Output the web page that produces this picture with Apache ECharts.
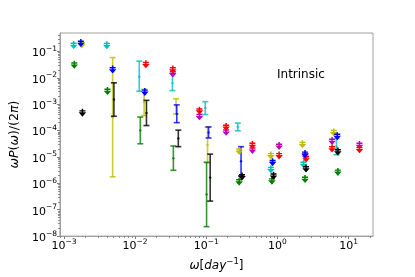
<!DOCTYPE html>
<html><head><meta charset="utf-8">
<script src="https://cdn.jsdelivr.net/npm/echarts@6/dist/echarts.min.js"></script>
<style>html,body{margin:0;padding:0;background:#fff}#c{width:415px;height:277px}</style>
</head><body><div id="c"></div>
<script>
// ---- axis ranges / ticks ----
const xMin = 8.8e-4, xMax = 22;
const yMin = 1e-8, yMax = 0.5;
const xMajorTicks = [1e-3, 1e-2, 1e-1, 1, 10];
const yMajorTicks = [1e-8, 1e-7, 1e-6, 1e-5, 1e-4, 1e-3, 1e-2, 1e-1];

// ---- cyan ----
const cyanLimX = [1.37e-3, 4.01e-3, 0.809, 2.32];
const cyanLimY = [0.174, 0.171, 3.4e-6, 5.33e-6];
const cyanBarX = [0.01145, 0.0335, 0.0968, 0.277, 6.75];
const cyanBarY = [0.0110, 6.3e-3, 7.1e-4, 1.37e-4, 2.45e-5];
const cyanBarLo = [3.09e-3, 3.28e-3, 4.04e-4, 9.8e-5, 1.21e-5];
const cyanBarHi = [0.0429, 0.0146, 1.25e-3, 1.93e-4, 4.96e-5];
// ---- blue ----
const blueLimX = [1.73e-3, 4.84e-3, 0.0137, 0.855, 2.44, 6.92];
const blueLimY = [0.209, 0.0205, 2.91e-3, 6.31e-6, 1.30e-5, 6.14e-5];
const blueBarX = [0.0385, 0.1077, 0.308];
const blueBarY = [4.28e-4, 8.5e-5, 6.9e-6];
const blueBarLo = [2.0e-4, 5.26e-5, 1.92e-6];
const blueBarHi = [9.42e-4, 1.37e-4, 2.45e-5];
// ---- red ----
const redLimX = [0.01416, 0.0339, 0.0802, 0.19, 0.445, 1.055, 2.52, 5.85, 14.2];
const redLimY = [0.0324, 0.0205, 5.66e-4, 1.37e-4, 2.84e-5, 1.14e-5, 8.65e-6, 2.07e-5, 1.95e-5];
// ---- magenta ----
const magLimX = [0.0339, 0.0802, 0.19, 0.445, 1.055, 2.47, 5.85, 14.2];
const magLimY = [0.0146, 3.49e-4, 9.0e-5, 1.85e-5, 2.61e-5, 1.11e-5, 4.02e-5, 2.84e-5];
// ---- yellow ----
const yelLimX = [1.78e-3, 0.29, 0.809, 2.25, 6.17];
const yelLimY = [0.182, 1.70e-5, 1.14e-5, 3.03e-5, 8.53e-5];
const yelBarX = [4.84e-3, 0.0134, 0.0376, 0.1042];
const yelBarY = [3.2e-4, 1.17e-3, 8.3e-4, 2.86e-5];
const yelBarLo = [1.77e-6, 3.71e-4, 4.28e-4, 5.96e-6];
const yelBarHi = [0.0587, 3.67e-3, 1.61e-3, 1.37e-4];
// ---- green ----
const grnLimX = [1.40e-3, 4.09e-3, 0.29, 0.836, 2.44, 7.06];
const grnLimY = [0.0313, 3.14e-3, 1.16e-6, 1.26e-6, 1.46e-6, 2.70e-6];
const grnBarX = [0.01183, 0.0345, 0.101];
const grnBarY = [1.01e-4, 9.0e-6, 3.8e-7];
const grnBarLo = [3.16e-5, 3.12e-6, 2.28e-8];
const grnBarHi = [3.26e-4, 2.61e-5, 6.31e-6];
// ---- black ----
const blkLimX = [1.82e-3, 0.318, 0.881, 2.52, 7.06];
const blkLimY = [4.77e-4, 1.82e-6, 1.92e-6, 3.64e-6, 1.61e-5];
const blkBarX = [5.04e-3, 0.01445, 0.0405, 0.1135];
const blkBarY = [1.5e-3, 4.66e-4, 5.05e-5, 1.65e-6];
const blkBarLo = [3.49e-4, 1.55e-4, 2.45e-5, 2.12e-7];
const blkBarHi = [6.47e-3, 1.40e-3, 1.04e-4, 1.28e-5];

const C = {c:'#00bfbf', b:'#0000ff', r:'#ff0000', m:'#bf00bf', y:'#bfbf00', g:'#008000', k:'#000000'};

function minorTicks(lo, hi) {
  const out = [];
  for (let d = -9; d <= 2; d++) for (let k = 2; k <= 9; k++) {
    const v = k * Math.pow(10, d);
    if (v > lo && v < hi) out.push(v);
  }
  return out;
}
function fmtLog(v) {
  const e = Math.round(Math.log10(v));
  return '{b|10}{s|' + String(e).replace('-', '\u2212') + '}';
}
const tickRich = {
  b: {fontSize: 11, fontFamily: 'DejaVu Sans', color: '#000', verticalAlign: 'bottom', lineHeight: 15},
  s: {fontSize: 7.5, fontFamily: 'DejaVu Sans', color: '#000', verticalAlign: 'bottom', lineHeight: 15, padding: [0, 0, 6, 0]}
};
const LIM_PATH = 'path://M4,0L6,0L6,2L9,2L9,4L6,4L6,5L10,5L5,11L0,5L4,5L4,4L1,4L1,2L4,2Z';

function limSeries(xs, ys, color, z) {
  return {type: 'scatter', symbol: LIM_PATH, symbolSize: [7.5, 8], z: z,
    itemStyle: {color: color, opacity: 1}, silent: true,
    data: xs.map((x, i) => [x, ys[i]])};
}
function barSeries(xs, ys, lo, hi, color, z) {
  return {type: 'custom', z: z, silent: true,
    data: xs.map((x, i) => [x, ys[i], lo[i], hi[i]]),
    encode: {x: 0, y: [1, 2, 3]},
    renderItem: function (params, api) {
      const x = api.value(0);
      const pc = api.coord([x, api.value(1)]);
      const pl = api.coord([x, api.value(2)]);
      const ph = api.coord([x, api.value(3)]);
      const st = {stroke: color, lineWidth: 1.6, opacity: 0.8};
      const w = 3;
      return {type: 'group', children: [
        {type: 'line', shape: {x1: pl[0], y1: pl[1], x2: ph[0], y2: ph[1]}, style: st},
        {type: 'line', shape: {x1: pl[0] - w, y1: pl[1], x2: pl[0] + w, y2: pl[1]}, style: st},
        {type: 'line', shape: {x1: ph[0] - w, y1: ph[1], x2: ph[0] + w, y2: ph[1]}, style: st},
        {type: 'circle', shape: {cx: pc[0], cy: pc[1], r: 1.2}, style: {fill: color, opacity: 0.8}}
      ]};
    }};
}

const axisCommon = {
  type: 'log', logBase: 10, splitLine: {show: false}, minorTick: {show: false}, minorSplitLine: {show: false}
};

const option = {
  animation: false,
  backgroundColor: '#fff',
  grid: {left: 52, top: 33, right: 42, bottom: 35, show: true, borderColor: '#a0a0a0', borderWidth: 1, containLabel: false},
  xAxis: [
    Object.assign({}, axisCommon, {min: xMin, max: xMax, position: 'bottom',
      axisLine: {show: true, lineStyle: {color: '#a0a0a0', width: 1}},
      axisTick: {show: true, length: 3, lineStyle: {color: '#808080'}, customValues: xMajorTicks},
      axisLabel: {show: true, margin: 1, customValues: xMajorTicks, formatter: fmtLog, rich: tickRich},
      name: '{i|\u03c9}{n|[}{i|day}{s|\u22121}{n|]}', nameLocation: 'middle', nameGap: 17,
      nameTextStyle: {rich: {
        i: {fontSize: 12, fontStyle: 'italic', fontFamily: 'DejaVu Sans', color: '#000', verticalAlign: 'bottom', lineHeight: 16},
        n: {fontSize: 12, fontFamily: 'DejaVu Sans', color: '#000', verticalAlign: 'bottom', lineHeight: 16},
        s: {fontSize: 8.5, fontFamily: 'DejaVu Sans', color: '#000', verticalAlign: 'bottom', lineHeight: 16, padding: [0, 0, 6, 0]}
      }}}),
    Object.assign({}, axisCommon, {min: xMin, max: xMax, position: 'bottom', offset: 0,
      axisLine: {show: false},
      axisTick: {show: true, length: 1.8, lineStyle: {color: '#808080'}, customValues: minorTicks(xMin, xMax)},
      axisLabel: {show: false}})
  ],
  yAxis: [
    Object.assign({}, axisCommon, {min: yMin, max: yMax, position: 'left',
      axisLine: {show: true, lineStyle: {color: '#a0a0a0', width: 1}},
      axisTick: {show: true, length: 3, lineStyle: {color: '#808080'}, customValues: yMajorTicks},
      axisLabel: {show: true, margin: 3, customValues: yMajorTicks, formatter: fmtLog, rich: tickRich},
      name: '{i|\u03c9P}{n|(}{i|\u03c9}{n|)/(2}{i|\u03c0}{n|)}', nameLocation: 'middle', nameGap: 38,
      nameTextStyle: {rich: {
        i: {fontSize: 12.5, fontStyle: 'italic', fontFamily: 'DejaVu Sans', color: '#000'},
        n: {fontSize: 12.5, fontFamily: 'DejaVu Sans', color: '#000'}
      }}}),
    Object.assign({}, axisCommon, {min: yMin, max: yMax, position: 'left', offset: 0,
      axisLine: {show: false},
      axisTick: {show: true, length: 1.8, lineStyle: {color: '#808080'}, customValues: minorTicks(yMin, yMax)},
      axisLabel: {show: false}})
  ],
  graphic: [{type: 'text', left: 277, top: 69, style: {text: 'Intrinsic', font: '12px "DejaVu Sans"', fill: '#000'}}],
  series: [
    barSeries(yelBarX, yelBarY, yelBarLo, yelBarHi, C.y, 2),
    barSeries(grnBarX, grnBarY, grnBarLo, grnBarHi, C.g, 2),
    barSeries(cyanBarX, cyanBarY, cyanBarLo, cyanBarHi, C.c, 2),
    barSeries(blueBarX, blueBarY, blueBarLo, blueBarHi, C.b, 2),
    barSeries(blkBarX, blkBarY, blkBarLo, blkBarHi, C.k, 2),
    limSeries(yelLimX, yelLimY, C.y, 3),
    limSeries(magLimX, magLimY, C.m, 3),
    limSeries(grnLimX, grnLimY, C.g, 3),
    limSeries(redLimX, redLimY, C.r, 3),
    limSeries(cyanLimX, cyanLimY, C.c, 3),
    limSeries(blueLimX, blueLimY, C.b, 3),
    limSeries(blkLimX, blkLimY, C.k, 3)
  ]
};
const chart = echarts.init(document.getElementById('c'), null, {renderer: 'canvas'});
chart.setOption(option);
</script></body></html>
